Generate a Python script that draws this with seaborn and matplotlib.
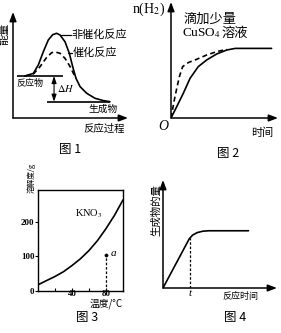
import matplotlib
matplotlib.use("Agg")
import matplotlib.pyplot as plt
import seaborn as sns

# ---------------- data ----------------
# Fig 1: energy profile
progress_uncat = [1.04, 1.77, 2.2, 2.64, 3.07, 3.45, 3.8, 4.09, 4.52, 4.9, 5.19, 5.48, 5.83, 6.41, 7.13, 7.86, 8.43]
energy_uncat = [3.96, 4.21, 5.0, 6.26, 7.36, 7.86, 7.99, 7.83, 7.2, 6.1, 4.84, 3.74, 2.96, 2.33, 1.86, 1.64, 1.54]
progress_cat = [1.04, 1.77, 2.35, 2.93, 3.36, 3.65, 4.09, 4.52, 4.97, 5.25, 5.48]
energy_cat = [3.96, 4.15, 4.84, 5.72, 6.16, 6.24, 6.1, 5.63, 4.84, 4.21, 3.74]
reactant_energy = 3.96
reactant_span = [0.35, 4.35]
product_energy = 1.54
product_span = [2.95, 8.45]

# Fig 2: n(H2) vs time
time_plain = [0, 0.53, 1.15, 1.78, 2.55, 3.33, 4.27, 5.2, 6.0, 9.4]
nh2_plain = [0, 0.97, 2.13, 3.42, 4.43, 5.0, 5.52, 5.86, 6.0, 6.0]
time_cuso4 = [0, 0.37, 0.78, 1.09, 1.62, 2.4, 3.33, 4.27, 5.2]
nh2_cuso4 = [0, 1.84, 3.56, 4.43, 4.78, 5.06, 5.43, 5.72, 5.92]

# Fig 3: KNO3 solubility
temperature = [0, 10, 20, 30, 40, 50, 60, 70, 80, 90, 100]
solubility = [16.6, 29, 41, 55, 73, 93, 117, 146, 181, 220, 265]
point_a = (80, 105)
y_ticks3 = [0, 100, 200]
x_ticks3 = [40, 80]
x_minor3 = [20, 60]

# Fig 4: product amount vs time
time4 = [0, 2.3, 2.6, 3.0, 3.5, 4.0, 7.5]
amount4 = [0, 4.55, 4.9, 5.13, 5.26, 5.3, 5.3]
t_mark = 2.37

# ---------------- style ----------------
sns.set_theme(style="white")
plt.rcParams["font.family"] = ["Noto Sans CJK SC", "DejaVu Sans"]
plt.rcParams["mathtext.fontset"] = "stix"
plt.rcParams["axes.unicode_minus"] = False
SERIF = ["Liberation Serif", "Noto Sans CJK SC"]

W, H = 281, 333
fig = plt.figure(figsize=(W / 100, H / 100), dpi=100)
fig.patch.set_facecolor("white")


def add_ax(x0, y0, x1, y1):
    return fig.add_axes([x0 / W, 1 - y1 / H, (x1 - x0) / W, (y1 - y0) / H])


def ftext(px, py, s, **kw):
    kw.setdefault("color", "black")
    fig.text(px / W, 1 - py / H, s, **kw)


def arrow_axes(ax):
    for s in ax.spines.values():
        s.set_visible(False)
    ax.set_xticks([])
    ax.set_yticks([])
    ax.patch.set_alpha(0)
    ap = dict(arrowstyle="-|>,head_length=0.45,head_width=0.17", lw=1.1,
              color="black", shrinkA=0, shrinkB=0)
    ax.annotate("", xy=(0, 1), xytext=(0, 0), xycoords="axes fraction", arrowprops=ap)
    ax.annotate("", xy=(1, 0), xytext=(0, 0), xycoords="axes fraction", arrowprops=ap)


LW = 1.2

# ---------------- Fig 1 ----------------
ax1 = add_ax(13, 12, 128, 118)
arrow_axes(ax1)
ax1.set_xlim(0, 10)
ax1.set_ylim(0, 10)
sns.lineplot(x=progress_uncat, y=energy_uncat, ax=ax1, color="black", lw=LW,
             estimator=None, sort=False)
sns.lineplot(x=progress_cat, y=energy_cat, ax=ax1, color="black", lw=LW,
             estimator=None, sort=False, linestyle=(0, (3, 2)))
ax1.hlines(reactant_energy, *reactant_span, color="black", lw=LW)
ax1.hlines(product_energy, *product_span, color="black", lw=LW)
ax1.annotate("", xy=(3.57, reactant_energy), xytext=(3.57, product_energy),
             arrowprops=dict(arrowstyle="<|-|>,head_length=0.35,head_width=0.12",
                             lw=0.8, color="black", shrinkA=0, shrinkB=0))
ax1.plot([4.15, 5.05], [7.85, 7.85], color="black", lw=0.9)
ax1.plot([4.75, 5.1], [6.1, 6.1], color="black", lw=0.9)
ax1.text(3.85, 2.75, r"$\Delta H$", fontsize=7.5, va="center", ha="left", color="black")

ftext(4, 34, "能量", fontsize=8, rotation=90, ha="center", va="center")
ftext(71.5, 35, "非催化反应", fontsize=8, ha="left", va="center")
ftext(72.5, 53, "催化反应", fontsize=8, ha="left", va="center")
ftext(16, 83, "反应物", fontsize=6.5, ha="left", va="center")
ftext(88, 109, "生成物", fontsize=7, ha="left", va="center")
ftext(83, 129, "反应过程", fontsize=7.5, ha="left", va="center")
ftext(70, 149, "图 1", fontsize=9, ha="center", va="center")

# ---------------- Fig 2 ----------------
ax2 = add_ax(171, 2, 278, 118)
arrow_axes(ax2)
ax2.set_xlim(0, 10)
ax2.set_ylim(0, 10)
sns.lineplot(x=time_plain, y=nh2_plain, ax=ax2, color="black", lw=LW,
             estimator=None, sort=False)
sns.lineplot(x=time_cuso4, y=nh2_cuso4, ax=ax2, color="black", lw=LW,
             estimator=None, sort=False, linestyle=(0, (3, 2)))

ftext(165, 9, r"n(H$_2$)", fontsize=10, family=SERIF, ha="right", va="center")
ftext(184, 19, "滴加少量", fontsize=9.5, ha="left", va="center")
ftext(182, 33, r"CuSO$_4$", fontsize=9.5, family=SERIF, ha="left", va="center")
ftext(222, 33, "溶液", fontsize=9.5, ha="left", va="center")
ftext(163, 127, "O", fontsize=10, family=SERIF, style="italic", ha="center", va="center")
ftext(262, 133, "时间", fontsize=8, ha="center", va="center")
ftext(228, 153, "图 2", fontsize=9, ha="center", va="center")

# ---------------- Fig 3 ----------------
ax3 = add_ax(38, 190, 123, 290.5)
ax3.patch.set_alpha(0)
for side in ["left", "bottom", "top", "right"]:
    ax3.spines[side].set_visible(True)
    ax3.spines[side].set_linewidth(1.0)
    ax3.spines[side].set_color("black")
ax3.set_xlim(0, 100)
ax3.set_ylim(0, 294)
sns.lineplot(x=temperature, y=solubility, ax=ax3, color="black", lw=LW,
             estimator=None, sort=False)
ax3.plot([point_a[0], point_a[0]], [0, point_a[1]], color="black", lw=0.9,
         linestyle=(0, (2, 1.5)))
sns.scatterplot(x=[point_a[0]], y=[point_a[1]], ax=ax3, color="black", s=6,
                edgecolor="black")
ax3.set_yticks(y_ticks3)
ax3.set_yticklabels([str(v) for v in y_ticks3], family=SERIF, fontsize=6.5,
                    fontweight="bold")
ax3.set_xticks(x_ticks3)
ax3.set_xticklabels([str(v) for v in x_ticks3], family=SERIF, fontsize=6.5,
                    fontweight="bold")
ax3.set_xticks(x_minor3, minor=True)
ax3.tick_params(axis="y", direction="out", length=2, width=0.8, pad=0.5, left=True,
                colors="black")
ax3.tick_params(axis="x", which="both", direction="in", length=2, width=0.8, pad=0,
                bottom=True, colors="black")
ax3.set_xlabel("")
ax3.set_ylabel("")
ax3.text(44, 225, r"KNO$_3$", fontsize=7.5, family=SERIF, ha="left", va="center",
         color="black")
ax3.text(86, 108, "a", fontsize=8, family=SERIF, style="italic", ha="left",
         va="center", color="black")

ftext(31, 178, "溶解度/g", fontsize=5.5, rotation=90, ha="center", va="center")
ftext(90, 304, "温度/°C", fontsize=7, ha="left", va="center")
ftext(87, 318, "图 3", fontsize=9, ha="center", va="center")

# ---------------- Fig 4 ----------------
ax4 = add_ax(163, 180, 277, 288)
arrow_axes(ax4)
ax4.set_xlim(0, 10)
ax4.set_ylim(0, 10)
sns.lineplot(x=time4, y=amount4, ax=ax4, color="black", lw=LW,
             estimator=None, sort=False)
ax4.plot([t_mark, t_mark], [0, 4.62], color="black", lw=0.9, linestyle=(0, (2, 1.5)))

ftext(156, 210, "生成物的量", fontsize=7.5, rotation=90, ha="center", va="center")
ftext(190, 294, "t", fontsize=8, family=SERIF, style="italic", ha="center", va="center")
ftext(240, 297, "反应时间", fontsize=6.5, ha="center", va="center")
ftext(235, 318, "图 4", fontsize=9, ha="center", va="center")

fig.savefig("out.png", dpi=100, facecolor="white")
